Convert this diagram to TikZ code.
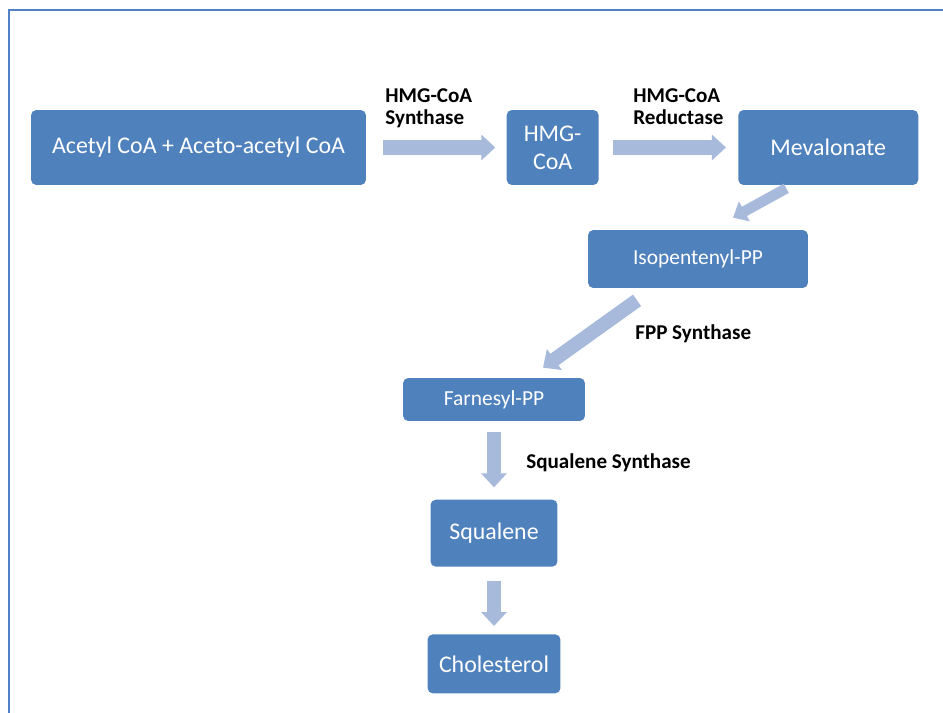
\documentclass[tikz,border=0pt]{standalone}
\usepackage{fontspec}
\setmainfont{Carlito}
\usepackage{xcolor}
\definecolor{cBox}{HTML}{4F81BD}
\definecolor{cArrow}{HTML}{A8BADB}
\definecolor{cFrame}{HTML}{5182C8}
\usepackage{tikz}
\usetikzlibrary{positioning,arrows.meta,calc}
\tikzset{
  node-box/.style={fill=cBox,text=white,rounded corners=3pt,inner sep=0pt,
    align=center,font=\fontsize{13.6}{16}\selectfont},
  node-box-small/.style={node-box,font=\fontsize{12.2}{14}\selectfont},
  node-enzyme/.style={align=left,inner sep=0pt,
    font=\bfseries\fontsize{12}{12.8}\selectfont},
  % block arrows: thick light shaft + wide triangle head
  arrow-flow/.style={-{Triangle[length=2.8mm,width=5mm]},line width=8pt,draw=cArrow},
  arrow-flow-thin/.style={-{Triangle[length=2.6mm,width=4.4mm]},line width=6pt,draw=cArrow},
  frame-line/.style={draw=cFrame,line width=1.5pt},
}

\begin{document}
\begin{tikzpicture}[x=0.02cm,y=-0.02cm]
  \useasboundingbox (0,0) rectangle (943,713);
  \draw[frame-line] (9,713) -- (9,10) -- (943,10);

  \node[node-box,minimum width=6.7cm,minimum height=1.5cm] (acetyl) at (198.5,147.5) {Acetyl CoA + Aceto-acetyl CoA};
  \node[node-box,minimum width=1.84cm,minimum height=1.5cm,right=2.8cm of acetyl] (hmg) {HMG-\\CoA};
  \node[node-box,minimum width=3.6cm,minimum height=1.5cm,right=2.78cm of hmg] (mev) {Mevalonate};

  \node[node-box-small,minimum width=4.4cm,minimum height=1.16cm] (iso) at (698,259) {Isopentenyl-PP};
  \node[node-box-small,minimum width=3.64cm,minimum height=0.86cm] (farn) at (494,399.5) {Farnesyl-PP};
  \node[node-box,minimum width=2.54cm,minimum height=1.34cm,below=1.56cm of farn] (squal) {Squalene};
  \node[node-box,minimum width=2.66cm,minimum height=1.18cm,below=1.34cm of squal] (chol) {Cholesterol};

  \node[node-enzyme,anchor=north west] (synth) at (385,88) {HMG-CoA\\Synthase};
  \node[node-enzyme,anchor=north west] (reduct) at (633,88) {HMG-CoA\\Reductase};
  \node[node-enzyme,anchor=west] (fpp) at (635,334) {FPP Synthase};
  \node[node-enzyme,anchor=west] (sqs) at (526,463) {Squalene Synthase};

  \draw[arrow-flow,shorten <=0.34cm,shorten >=0.22cm] (acetyl) -- (hmg);
  \draw[arrow-flow,shorten <=0.28cm,shorten >=0.24cm] (hmg) -- (mev);
  \draw[arrow-flow-thin] ([xshift=-0.84cm,yshift=-0.06cm]mev.south) -- ([xshift=0.7cm,yshift=0.24cm]iso.north);
  \draw[arrow-flow] ([xshift=-1.22cm,yshift=-0.24cm]iso.south) -- ([xshift=0.98cm,yshift=0.2cm]farn.north);
  \draw[arrow-flow,shorten <=0.22cm,shorten >=0.24cm] (farn.south) -- (farn.south |- squal.north);
  \draw[arrow-flow,shorten <=0.28cm,shorten >=0.16cm] (squal.south) -- (squal.south |- chol.north);
\end{tikzpicture}
\end{document}
